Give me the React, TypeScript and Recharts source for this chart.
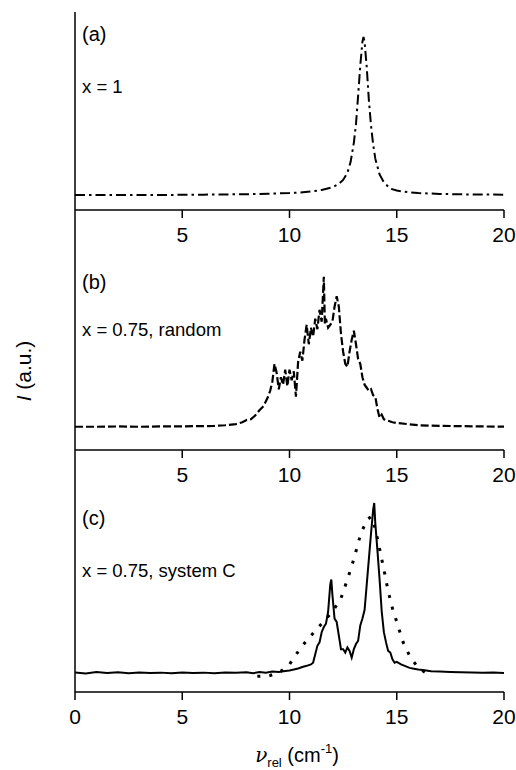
import React from "react";
import { LineChart, Line, XAxis, YAxis } from "recharts";

// ---------- data ----------
const xTicksTop = [5, 10, 15, 20];
const xTicksBottom = [0, 5, 10, 15, 20];

// (a) x = 1, dash-dot curve
const xA = [0, 2, 4, 6, 8, 9, 10, 10.5, 11, 11.5, 12, 12.3, 12.5, 12.7, 12.85, 13.0, 13.1, 13.2, 13.3, 13.4, 13.45, 13.5, 13.6, 13.7, 13.8, 13.9, 14.0, 14.2, 14.4, 14.7, 15, 15.5, 16, 17, 18, 20];
const yA = [0, 0, 0, 0.002, 0.005, 0.008, 0.012, 0.016, 0.022, 0.032, 0.048, 0.07, 0.095, 0.14, 0.21, 0.33, 0.45, 0.63, 0.82, 0.97, 1.0, 0.97, 0.81, 0.6, 0.44, 0.32, 0.23, 0.13, 0.08, 0.04, 0.028, 0.018, 0.012, 0.007, 0.004, 0.002];

// (b) x = 0.75, random, dashed curve
const xB = [0, 1, 2, 3, 4, 5, 6, 6.5, 7, 7.5, 7.8, 8.0, 8.2, 8.4, 8.6, 8.8, 8.9, 9.0, 9.1, 9.2, 9.3, 9.4, 9.5, 9.6, 9.7, 9.8, 9.9, 10.0, 10.1, 10.2, 10.3, 10.4, 10.5, 10.6, 10.7, 10.8, 10.9, 11.0, 11.1, 11.2, 11.3, 11.4, 11.5, 11.6, 11.65, 11.7, 11.8, 11.9, 12.0, 12.1, 12.2, 12.3, 12.4, 12.5, 12.6, 12.7, 12.8, 12.9, 13.0, 13.1, 13.2, 13.3, 13.4, 13.5, 13.6, 13.7, 13.8, 13.9, 14.0, 14.1, 14.2, 14.3, 14.4, 14.6, 14.8, 15.0, 15.5, 16, 17, 18, 19, 20];
const yB = [0, 0, 0.002, 0, 0.002, 0.003, 0.004, 0.006, 0.01, 0.018, 0.03, 0.045, 0.05, 0.075, 0.11, 0.14, 0.17, 0.2, 0.24, 0.3, 0.42, 0.36, 0.25, 0.33, 0.28, 0.38, 0.27, 0.38, 0.31, 0.37, 0.2, 0.43, 0.5, 0.44, 0.58, 0.68, 0.55, 0.66, 0.6, 0.72, 0.65, 0.78, 0.7, 1.0, 0.68, 0.72, 0.66, 0.68, 0.7, 0.8, 0.87, 0.8, 0.62, 0.5, 0.42, 0.4, 0.5, 0.58, 0.64, 0.55, 0.45, 0.42, 0.33, 0.28, 0.26, 0.24, 0.25, 0.21, 0.2, 0.12, 0.06, 0.08, 0.05, 0.04, 0.03, 0.025, 0.018, 0.01, 0.006, 0.004, 0.002, 0.001];

// (c) x = 0.75, system C: solid (measured) and dotted curves
const xC = [0, 0.5, 1, 1.5, 2, 2.5, 3, 3.5, 4, 4.5, 5, 5.5, 6, 6.5, 7, 7.5, 8, 8.3, 8.6, 8.9, 9.2, 9.5, 9.8, 10.0, 10.2, 10.4, 10.6, 10.8, 11.0, 11.1, 11.2, 11.3, 11.4, 11.5, 11.6, 11.7, 11.8, 11.9, 11.95, 12.0, 12.1, 12.2, 12.3, 12.4, 12.5, 12.6, 12.7, 12.8, 12.9, 13.0, 13.1, 13.2, 13.3, 13.4, 13.5, 13.6, 13.7, 13.8, 13.9, 13.95, 14.0, 14.1, 14.2, 14.3, 14.4, 14.5, 14.6, 14.7, 14.8, 14.9, 15.0, 15.2, 15.4, 15.6, 15.8, 16.0, 16.3, 16.6, 17, 17.5, 18, 18.5, 19, 19.5, 20];
const yC = [0.003, -0.003, 0.005, 0, 0.004, -0.002, 0.003, 0, 0.002, -0.002, 0.003, 0, 0.002, -0.002, 0.003, 0.002, 0.004, -0.002, 0.006, 0.002, 0.008, 0.006, 0.012, 0.015, 0.02, 0.026, 0.035, 0.042, 0.05, 0.06, 0.11, 0.16, 0.18, 0.24, 0.27, 0.29, 0.36, 0.52, 0.55, 0.46, 0.32, 0.3, 0.22, 0.14, 0.14, 0.12, 0.15, 0.13, 0.09, 0.14, 0.17, 0.19, 0.28, 0.32, 0.37, 0.52, 0.67, 0.82, 0.96, 1.0, 0.88, 0.72, 0.55, 0.36, 0.24, 0.18, 0.13, 0.12, 0.08, 0.06, 0.065, 0.05, 0.04, 0.03, 0.025, 0.02, 0.016, 0.01, 0.008, 0.006, 0.004, 0.003, 0.002, 0.003, 0];
const xD = [8.5, 9.1, 9.6, 10.0, 10.2, 10.6, 11.0, 11.5, 12.0, 12.4, 12.7, 13.0, 13.3, 13.6, 13.8, 14.0, 14.2, 14.4, 14.6, 14.8, 15.0, 15.3, 15.6, 16.0, 16.6];
const yD = [-0.02, -0.015, 0.01, 0.05, 0.09, 0.16, 0.22, 0.29, 0.36, 0.44, 0.55, 0.67, 0.81, 0.9, 0.92, 0.85, 0.73, 0.61, 0.48, 0.38, 0.3, 0.18, 0.1, 0.03, -0.02];

// ---------- tables ----------
const rowsA = xA.map((x, i) => ({ x, a: yA[i] }));
const rowsB = xB.map((x, i) => ({ x, b: yB[i] }));
function mergeC() {
  const m = new Map<number, any>();
  xC.forEach((x, i) => m.set(x, { ...(m.get(x) || { x }), c: yC[i] }));
  xD.forEach((x, i) => m.set(x, { ...(m.get(x) || { x }), d: yD[i] }));
  return Array.from(m.values()).sort((p, q) => p.x - q.x);
}
const rowsC = mergeC();

const FONT = "'Liberation Sans', Arial, sans-serif";
const W = 516;

function Panel(props: {
  top: number;
  height: number;
  marginTop: number;
  data: any[];
  ticks: number[];
  yDomain: [number, number];
  children: React.ReactNode;
}) {
  return (
    <div style={{ position: "absolute", left: 0, top: props.top }}>
      <LineChart
        width={W}
        height={props.height}
        data={props.data}
        margin={{ top: props.marginTop, right: 12, bottom: 0, left: 0 }}
      >
        <XAxis
          type="number"
          dataKey="x"
          domain={[0, 20]}
          ticks={props.ticks}
          interval={0}
          allowDataOverflow
          height={40}
          tickSize={8}
          tickMargin={9}
          axisLine={{ stroke: "#000", strokeWidth: 1.5 }}
          tickLine={{ stroke: "#000", strokeWidth: 1.5 }}
          tick={{ fill: "#000", fontSize: 21, fontFamily: FONT }}
        />
        <YAxis
          type="number"
          domain={props.yDomain}
          allowDataOverflow
          width={75}
          tick={false}
          tickLine={false}
          axisLine={{ stroke: "#000", strokeWidth: 1.5 }}
        />
        {props.children}
      </LineChart>
    </div>
  );
}

export default function App() {
  return (
    <div
      style={{
        position: "absolute",
        left: 0,
        top: 0,
        width: W,
        height: 770,
        background: "#fff",
        fontFamily: FONT,
      }}
    >
      <Panel top={0} height={250} marginTop={12} data={rowsA} ticks={xTicksTop} yDomain={[-0.095, 1.158]}>
        <Line
          type="linear"
          dataKey="a"
          stroke="#000"
          strokeWidth={2}
          strokeDasharray="10 4 2.5 4"
          dot={false}
          isAnimationActive={false}
        />
      </Panel>
      <Panel top={210} height={280} marginTop={0} data={rowsB} ticks={xTicksTop} yDomain={[-0.155, 1.445]}>
        <Line
          type="linear"
          dataKey="b"
          stroke="#000"
          strokeWidth={2.2}
          strokeDasharray="8 3"
          dot={false}
          isAnimationActive={false}
        />
      </Panel>
      <Panel top={450} height={282} marginTop={0} data={rowsC} ticks={xTicksBottom} yDomain={[-0.112, 1.312]}>
        <Line
          type="linear"
          dataKey="d"
          stroke="#000"
          strokeWidth={3}
          strokeDasharray="3 9"
          dot={false}
          connectNulls
          isAnimationActive={false}
        />
        <Line
          type="linear"
          dataKey="c"
          stroke="#000"
          strokeWidth={2}
          dot={false}
          connectNulls
          isAnimationActive={false}
        />
      </Panel>
      <svg
        width={W}
        height={770}
        style={{ position: "absolute", left: 0, top: 0, pointerEvents: "none" }}
        fontFamily={FONT}
      >
        <text x={82} y={34} fontSize={20} dominantBaseline="central">(a)</text>
        <text x={82} y={86} fontSize={18.5} dominantBaseline="central">x = 1</text>
        <text x={82} y={282} fontSize={20} dominantBaseline="central">(b)</text>
        <text x={82} y={329} fontSize={18.5} dominantBaseline="central">x = 0.75, random</text>
        <text x={82} y={518} fontSize={20} dominantBaseline="central">(c)</text>
        <text x={82} y={570} fontSize={18.5} dominantBaseline="central">x = 0.75, system C</text>
        <text
          transform="translate(31, 371) rotate(-90)"
          textAnchor="middle"
          fontSize={21}
        >
          <tspan fontStyle="italic">I</tspan> (a.u.)
        </text>
        <text x={297} y={762} textAnchor="middle" fontSize={20}>
          <tspan fontStyle="italic" fontFamily="'DejaVu Serif', serif">ν</tspan>
          <tspan fontSize={13} dy={5}>rel</tspan>
          <tspan dy={-5}> (cm</tspan>
          <tspan fontSize={13} dy={-9}>-1</tspan>
          <tspan dy={9}>)</tspan>
        </text>
      </svg>
    </div>
  );
}
